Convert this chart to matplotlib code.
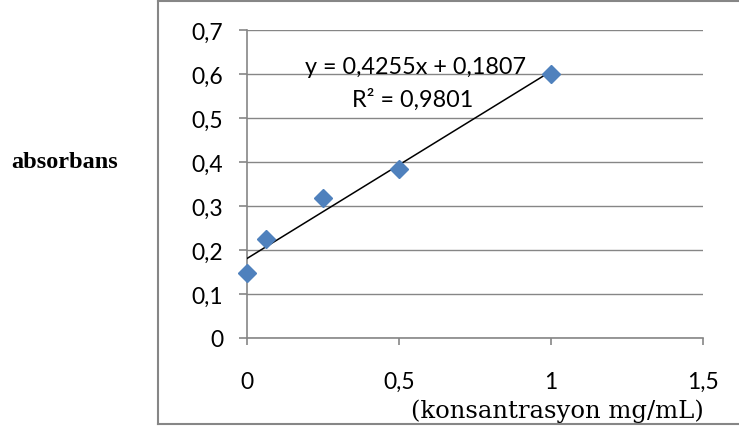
import matplotlib.pyplot as plt
import numpy as np
from matplotlib.lines import Line2D

# calibration data: concentration (mg/mL) vs absorbance
konsantrasyon = [0, 0.0625, 0.25, 0.5, 1.0]
absorbans = [0.148, 0.224, 0.318, 0.385, 0.601]

# linear trendline
egim = 0.4255
kesisim = 0.1807
r2 = 0.9801

x_ticks = [0, 0.5, 1, 1.5]
y_ticks = [0, 0.1, 0.2, 0.3, 0.4, 0.5, 0.6, 0.7]

gray = '#868686'
blue = '#4F81BD'

fig = plt.figure(figsize=(7.39, 4.27), dpi=100)
ax = fig.add_axes([247 / 739, 88 / 427, 456 / 739, 308 / 427])

ax.plot(konsantrasyon, absorbans, linestyle='none', marker='D',
        markersize=9, color=blue, zorder=4, clip_on=False)

xs = np.array([konsantrasyon[0], konsantrasyon[-1]])
ax.plot(xs, egim * xs + kesisim, color='black', lw=1.1, zorder=3)

ax.set_xlim(0, 1.5)
ax.set_ylim(0, 0.7)
ax.set_xticks(x_ticks)
ax.set_yticks(y_ticks)
ax.set_xticklabels([f'{v:g}'.replace('.', ',') for v in x_ticks])
ax.set_yticklabels([f'{v:g}'.replace('.', ',') for v in y_ticks])

ax.grid(axis='y', color=gray, lw=1)
ax.set_axisbelow(True)
for side in ['top', 'right']:
    ax.spines[side].set_visible(False)
for side in ['left', 'bottom']:
    ax.spines[side].set_color(gray)
    ax.spines[side].set_linewidth(1.2)

ax.tick_params(axis='y', direction='out', length=6, color=gray,
               width=1.2, pad=11, labelsize=16.5)
ax.tick_params(axis='x', direction='out', length=5, color=gray,
               width=1.2, pad=19, labelsize=16.5)
for lbl in ax.get_xticklabels() + ax.get_yticklabels():
    lbl.set_family('Lato')

eq = f'y = {egim:.4f}x + {kesisim:.4f}'.replace('.', ',')
ax.text(0.553, 0.616, eq, ha='center', va='center', fontsize=16.8,
        family='Lato')
ax.text(0.546, 0.543, f'R² = {r2:.4f}'.replace('.', ','), ha='center',
        va='center', fontsize=16.8, family='Lato')

fig.text(65 / 739, 1 - 163 / 427, 'absorbans', ha='center', va='center',
         fontsize=17.5, fontweight='bold', family='Liberation Serif')
fig.text(557 / 739, 1 - 411 / 427, '(konsantrasyon mg/mL)', ha='center',
         va='center', fontsize=17.5, family='DejaVu Serif')

# outer chart frame (right edge falls outside the image)
x0, y0, y1 = 157.5 / 739, 2.5 / 427, 1 - 1.5 / 427
for xd, yd in [([x0, x0], [y0, y1]), ([x0, 1.01], [y1, y1]),
               ([x0, 1.01], [y0, y0])]:
    fig.add_artist(Line2D(xd, yd, transform=fig.transFigure,
                          color=gray, lw=1.5))

fig.savefig('out.png', dpi=100)
